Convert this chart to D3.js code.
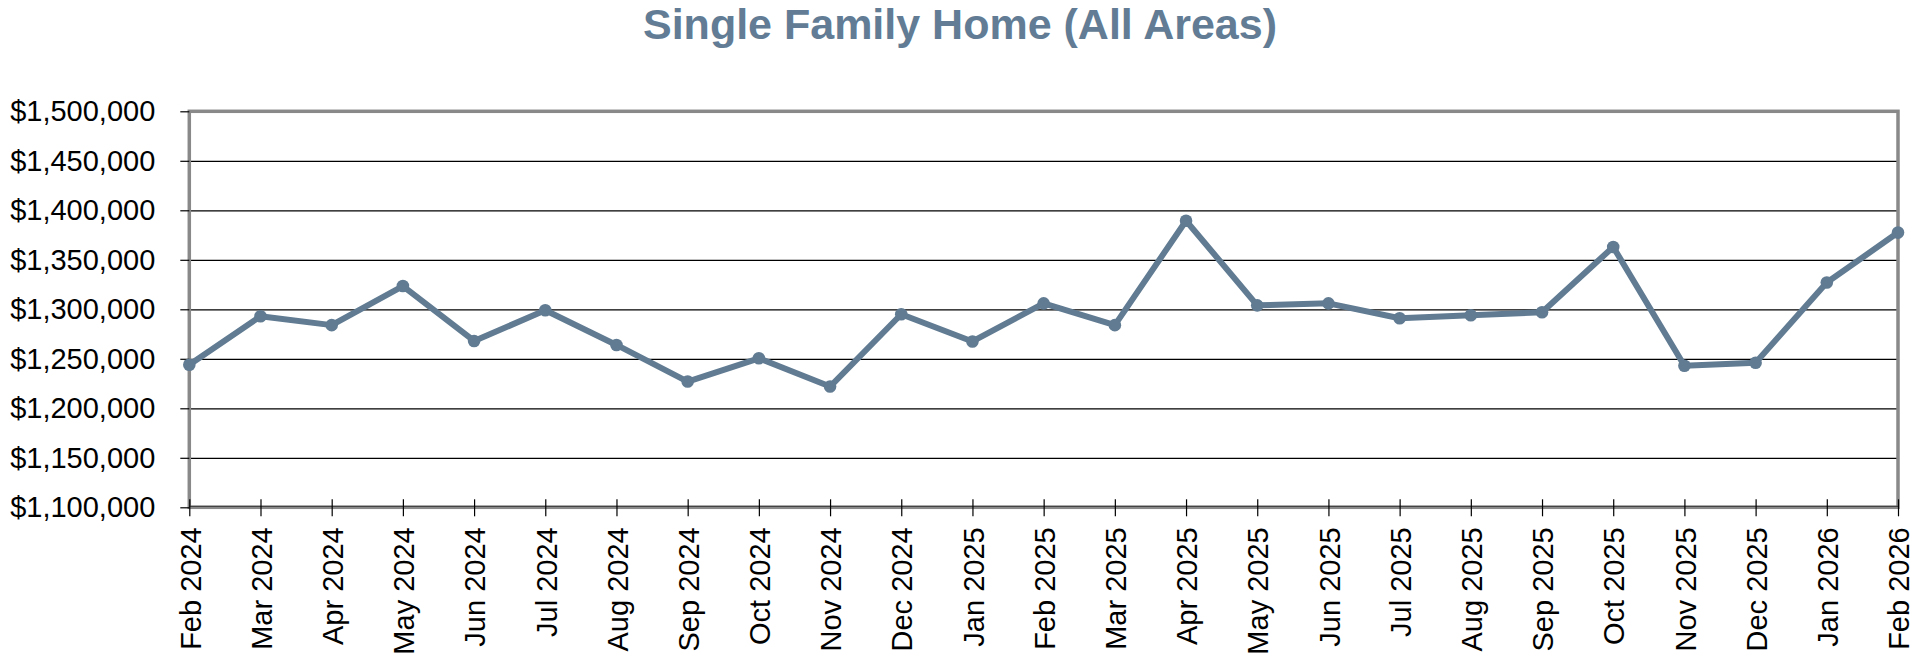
<!DOCTYPE html>
<html>
<head>
<meta charset="utf-8">
<script src="https://cdn.jsdelivr.net/npm/d3@7"></script>
<style>
  html, body { margin: 0; padding: 0; background: #ffffff; }
  svg { display: block; }
</style>
</head>
<body>
<svg id="chart" width="1926" height="666"></svg>
<script>
// ---- data ----
const title = "Single Family Home (All Areas)";
const months = [
  "Feb 2024","Mar 2024","Apr 2024","May 2024","Jun 2024","Jul 2024","Aug 2024",
  "Sep 2024","Oct 2024","Nov 2024","Dec 2024","Jan 2025","Feb 2025","Mar 2025",
  "Apr 2025","May 2025","Jun 2025","Jul 2025","Aug 2025","Sep 2025","Oct 2025",
  "Nov 2025","Dec 2025","Jan 2026","Feb 2026"
];
const prices = [
  1244000, 1293000, 1284000, 1323500, 1268000, 1299000, 1264000,
  1227000, 1250500, 1222000, 1295000, 1267500, 1306000, 1284000,
  1389500, 1304000, 1306000, 1291000, 1294000, 1297000, 1363000,
  1243000, 1246000, 1327000, 1377500
];
const yTicks = [1100000, 1150000, 1200000, 1250000, 1300000, 1350000, 1400000, 1450000, 1500000];
const yDomain = [1100000, 1500000];

// ---- layout ----
const pL = 189.3, pR = 1898, pT = 111.3, pB = 507.3;
const lineColor = "#607b92";
const titleColor = "#617c94";
const font = "'Liberation Sans', Arial, Helvetica, sans-serif";

const svg = d3.select("#chart");

const x = d3.scalePoint().domain(months).range([pL, pR]);
const y = d3.scaleLinear().domain(yDomain).range([pB, pT]);

// title
svg.append("text")
  .attr("x", 960).attr("y", 39)
  .attr("text-anchor", "middle")
  .style("font-family", font)
  .style("font-size", "43px")
  .style("font-weight", "bold")
  .style("fill", titleColor)
  .text(title);

// gridlines
svg.append("g")
  .attr("transform", `translate(${pL},0)`)
  .call(d3.axisLeft(y).tickValues(yTicks).tickSize(-(pR - pL)).tickFormat(""))
  .call(g => g.select(".domain").remove())
  .call(g => g.selectAll("line").attr("stroke", "#000").attr("stroke-width", 1.2));

// plot border
svg.append("rect")
  .attr("x", pL).attr("y", pT)
  .attr("width", pR - pL).attr("height", pB - pT)
  .attr("fill", "none")
  .attr("stroke", "#898989")
  .attr("stroke-width", 3.5);

// bottom axis line
svg.append("line")
  .attr("x1", pL).attr("x2", pR)
  .attr("y1", pB - 1).attr("y2", pB - 1)
  .attr("stroke", "#333").attr("stroke-width", 1);

// y axis
svg.append("g")
  .attr("transform", `translate(${pL},0)`)
  .call(d3.axisLeft(y).tickValues(yTicks).tickSize(9).tickPadding(25)
        .tickFormat(d => "$" + d3.format(",")(d)))
  .call(g => g.select(".domain").remove())
  .call(g => g.selectAll("line").attr("stroke", "#000").attr("stroke-width", 1.2))
  .call(g => g.selectAll("text")
      .style("font-family", font)
      .style("font-size", "29px")
      .attr("fill", "#000"));

// x axis
svg.append("g")
  .attr("transform", `translate(0,${pB})`)
  .call(d3.axisBottom(x).tickSize(9).tickPadding(0))
  .call(g => g.select(".domain").remove())
  .call(g => g.selectAll(".tick line")
      .attr("y1", -8).attr("y2", 9)
      .attr("stroke", "#000").attr("stroke-width", 1.2))
  .call(g => g.selectAll(".tick text")
      .attr("transform", "rotate(-90)")
      .attr("x", -20)
      .attr("y", 0)
      .attr("dy", "0.37em")
      .attr("text-anchor", "end")
      .style("font-family", font)
      .style("font-size", "29px")
      .attr("fill", "#000"));

// line
const lineGen = d3.line()
  .x((d, i) => x(months[i]))
  .y(d => y(d));

svg.append("path")
  .datum(prices)
  .attr("d", lineGen)
  .attr("fill", "none")
  .attr("stroke", lineColor)
  .attr("stroke-width", 6)
  .attr("stroke-linejoin", "round");

svg.append("g")
  .selectAll("circle")
  .data(prices)
  .join("circle")
  .attr("cx", (d, i) => x(months[i]))
  .attr("cy", d => y(d))
  .attr("r", 6.3)
  .attr("fill", lineColor);
</script>
</body>
</html>
